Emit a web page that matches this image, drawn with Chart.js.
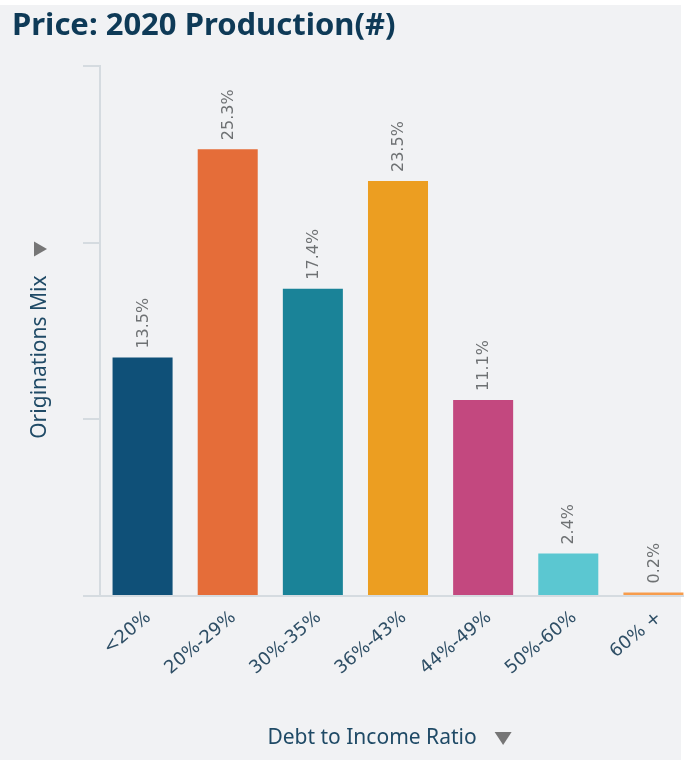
<!DOCTYPE html>
<html>
<head>
<meta charset="utf-8">
<script src="https://cdn.jsdelivr.net/npm/chart.js@4.4.0/dist/chart.umd.min.js"></script>
<style>
body{margin:0;background:#fff;}
#panel{position:absolute;left:0;top:5px;width:681px;height:755px;background:#f1f2f4;}
#wrap{position:absolute;left:0;top:0;width:684px;height:760px;overflow:hidden;}
#chart{position:absolute;left:0;top:0;}
</style>
</head>
<body>
<div id="panel"></div>
<div id="wrap"><canvas id="chart" width="696" height="760" style="width:696px;height:760px"></canvas></div>
<script>
// datos del grafico
var categorias = ['<20%', '20%-29%', '30%-35%', '36%-43%', '44%-49%', '50%-60%', '60% +'];
var valores = [13.5, 25.3, 17.4, 23.5, 11.1, 2.4, 0.2];
var colores = ['#0f5078', '#e56d39', '#1a8398', '#ec9e21', '#c3487f', '#5bc7d1', '#f79c4c'];
var ticks_y = [0, 10, 20, 30];
var titulo = 'Price: 2020 Production(#)';
var titulo_x = 'Debt to Income Ratio';
var titulo_y = 'Originations Mix';

var COLOR_EJE = '#d5dbe0';
var COLOR_TEXTO = '#1f4a66';
var FUENTE_NUM = "'DejaVu Sans', sans-serif";
var FUENTE = "'Noto Sans', sans-serif";

// etiquetas giradas encima de cada barra
var etiquetas = {
    id: 'etiquetas',
    afterDatasetsDraw: function(chart){
        var ctx = chart.ctx;
        var meta = chart.getDatasetMeta(0);
        ctx.save();
        ctx.fillStyle = '#6e7173';
        ctx.font = '16px ' + FUENTE_NUM;
        ctx.textAlign = 'left';
        ctx.textBaseline = 'middle';
        for (var i = 0; i < meta.data.length; i++){
            var bar = meta.data[i];
            ctx.save();
            ctx.translate(bar.x + 1, bar.y - 9);
            ctx.rotate(-Math.PI/2);
            ctx.fillText(valores[i].toFixed(1) + '%', 0, 0);
            ctx.restore();
        }
        ctx.restore();
    }
};

// titulos de los ejes con su flecha gris
var titulos_ejes = {
    id: 'titulos_ejes',
    afterDraw: function(chart){
        var ctx = chart.ctx;
        var sx = chart.scales.x, sy = chart.scales.y;
        ctx.save();
        ctx.font = '21px ' + FUENTE;
        ctx.fillStyle = COLOR_TEXTO;
        ctx.textBaseline = 'middle';
        ctx.textAlign = 'center';

        // eje x
        var wx = ctx.measureText(titulo_x).width;
        var cx = (sx.left + sx.right)/2 - 26;
        var cy = sx.bottom - 22;
        ctx.fillText(titulo_x, cx, cy);
        var tx = cx + wx/2 + 18;
        ctx.fillStyle = '#767676';
        ctx.beginPath();
        ctx.moveTo(tx, cy - 6);
        ctx.lineTo(tx + 17, cy - 6);
        ctx.lineTo(tx + 8.5, cy + 7);
        ctx.closePath();
        ctx.fill();

        // eje y
        var wy = ctx.measureText(titulo_y).width;
        var yx = sy.left + 28;
        var yc = (sy.top + sy.bottom)/2 + 26;
        ctx.save();
        ctx.translate(yx, yc);
        ctx.rotate(-Math.PI/2);
        ctx.fillStyle = COLOR_TEXTO;
        ctx.fillText(titulo_y, 0, 0);
        ctx.restore();
        var ty = yc - wy/2 - 19;
        ctx.fillStyle = '#767676';
        ctx.beginPath();
        ctx.moveTo(yx - 6, ty);
        ctx.lineTo(yx - 6, ty - 15);
        ctx.lineTo(yx + 7, ty - 7.5);
        ctx.closePath();
        ctx.fill();
        ctx.restore();
    }
};

function plot_barras(){
    var canvas_ref = document.getElementById('chart');
    new Chart(canvas_ref, {
        type: 'bar',
        data: {
            labels: categorias,
            datasets: [{
                data: valores,
                backgroundColor: colores,
                borderWidth: 0,
                barPercentage: 1,
                categoryPercentage: 0.705
            }]
        },
        options: {
            responsive: false,
            animation: false,
            layout: {padding: {left: 12, top: 0, right: 0, bottom: 0}},
            plugins: {
                legend: {display: false},
                tooltip: {enabled: false},
                title: {
                    display: true,
                    text: titulo,
                    align: 'start',
                    color: '#0e3a57',
                    font: {family: FUENTE, size: 31, weight: 'bold'},
                    padding: {top: 8, bottom: 21}
                }
            },
            scales: {
                x: {
                    grid: {display: false},
                    border: {color: COLOR_EJE, width: 2},
                    ticks: {
                        color: '#2f4f66',
                        font: {family: FUENTE_NUM, size: 18},
                        minRotation: 40,
                        maxRotation: 40,
                        padding: 3,
                        labelOffset: 6
                    },
                    afterFit: function(s){ s.height = 164; }
                },
                y: {
                    min: ticks_y[0],
                    max: ticks_y[ticks_y.length - 1],
                    afterBuildTicks: function(s){
                        s.ticks = ticks_y.map(function(v){ return {value: v}; });
                    },
                    ticks: {display: false},
                    grid: {drawOnChartArea: false, drawTicks: true, tickLength: 17, color: COLOR_EJE, lineWidth: 2},
                    border: {color: COLOR_EJE, width: 2},
                    afterFit: function(s){ s.width = 88; }
                }
            }
        },
        plugins: [etiquetas, titulos_ejes]
    });
}

plot_barras();
</script>
</body>
</html>
